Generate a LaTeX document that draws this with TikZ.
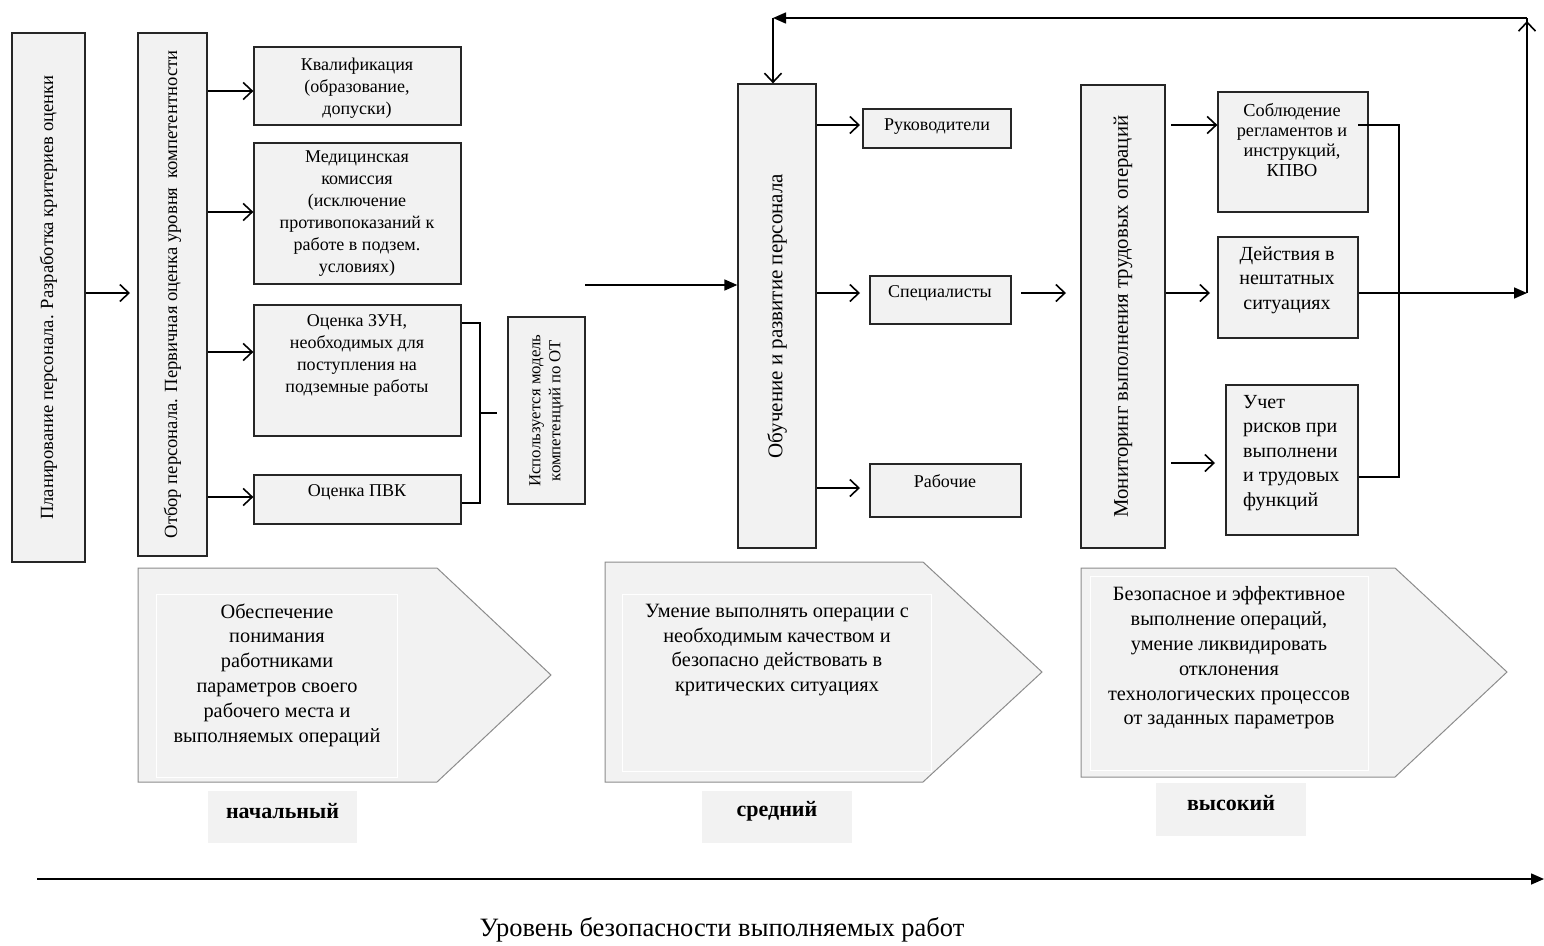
\documentclass[tikz,border=0pt]{standalone}
\usepackage{fontspec}
\setmainfont{Liberation Serif}
\usetikzlibrary{arrows.meta,fit}
\definecolor{boxgray}{HTML}{F2F2F2}
\definecolor{pentline}{HTML}{8C8C8C}
\begin{document}
\begin{tikzpicture}[x=1pt,y=-1pt,
  box/.style={draw=black!85, fill=boxgray, line width=1.3pt, inner sep=0pt},
  txt/.style={align=center, font=\fontsize{18}{22}\selectfont, inner sep=0pt},
  rtxt/.style={rotate=90, align=center, font=\fontsize{18.6}{22}\selectfont, inner sep=0pt},
  ptxt/.style={align=center, font=\fontsize{20.3}{24.8}\selectfont, inner sep=0pt},
  lvl/.style={fill=boxgray, inner sep=0pt},
  lvltxt/.style={font=\bfseries\fontsize{22}{26}\selectfont, inner sep=0pt},
  pent/.style={draw=pentline, fill=boxgray, line width=1pt},
  inner/.style={draw=white, line width=0.8pt},
  oa/.style={-{Straight Barb[length=9pt,width=17pt,line width=1.6pt]}, line width=1.6pt},
  fa/.style={-{Triangle[length=13pt,width=11pt]}, line width=1.6pt},
  thin/.style={line width=1.2pt}
]
\useasboundingbox (0,0) rectangle (1544,945);

% ---------- left column ----------
\node[box, fit={(12,33) (85,562)}] (A) {};
\node[rtxt] (At) at (A.center) {Планирование персонала. Разработка критериев оценки};
\node[box, fit={(138,33) (207,556)}] (B) {};
\node[rtxt] (Bt) at (B.center) {Отбор персонала. Первичная оценка уровня\ \ компетентности};
\draw[oa] (A.east |- 0,293) -- (130,293) coordinate (Bin);

\node[box, fit={(254,47) (461,125)}] (K) {};
\node[txt] (Kt) at (357,88) {Квалификация\\(образование,\\допуски)};
\node[box, fit={(254,143) (461,284)}] (M) {};
\node[txt] (Mt) at (357,214) {Медицинская\\комиссия\\(исключение\\противопоказаний к\\работе в подзем.\\условиях)};
\node[box, fit={(254,305) (461,436)}] (Z) {};
\node[txt] (Zt) at (357,355) {Оценка ЗУН,\\необходимых для\\поступления на\\подземные работы};
\node[box, fit={(254,475) (461,524)}] (P) {};
\node[txt] (Pt) at (357,492) {Оценка ПВК};

\draw[oa] (B.east |- 0,91) -- (K.west |- 0,91);
\draw[oa] (B.east |- 0,212) -- (M.west |- 0,212);
\draw[oa] (B.east |- 0,352) -- (Z.west |- 0,352);
\draw[oa] (B.east |- 0,497) -- (P.west |- 0,497);

\node[box, fit={(508,317) (585,504)}] (U) {};
\node[rtxt, font=\fontsize{16.8}{20}\selectfont] (Ut) at (U.center) {Используется модель\\компетенций по ОТ};
\draw[thin] (Z.east |- 0,323) -- (480,323) coordinate (br1) -- (480,503) coordinate (br2) -- (P.east |- 0,503);
\draw[thin] (480,413) coordinate (brm) -- (497,413);

% ---------- middle column ----------
\node[box, fit={(738,84) (816,548)}] (O) {};
\node[rtxt, font=\fontsize{21}{25}\selectfont] (Ot) at (O.center) {Обучение и развитие персонала};
\coordinate (Ostart) at (585,285);
\draw[fa] (Ostart) -- (O.west |- Ostart);

\node[box, fit={(863,109) (1011,148)}] (R1) {};
\node[txt] (R1t) at (937,127) {Руководители};
\node[box, fit={(870,276) (1011,324)}] (R2) {};
\node[txt] (R2t) at (940,293) {Специалисты};
\node[box, fit={(870,464) (1021,517)}] (R3) {};
\node[txt] (R3t) at (945,481) {Рабочие};

\draw[oa] (O.east |- 0,125) -- (860,125);
\draw[oa] (O.east |- 0,293) -- (860,293);
\draw[oa] (O.east |- 0,488) -- (860,488);
\draw[oa] (1021,293) -- (1066,293);

% ---------- right column ----------
\node[box, fit={(1081,85) (1165,548)}] (Mo) {};
\node[rtxt, font=\fontsize{20.8}{25}\selectfont] (Mot) at (Mo.center) {Мониторинг выполнения трудовых операций};

\node[box, fit={(1218,92) (1368,212)}] (S1) {};
\node[txt, font=\fontsize{18.3}{20}\selectfont] (S1t) at (1292,140) {Соблюдение\\регламентов и\\инструкций,\\КПВО};
\node[box, fit={(1218,237) (1358,338)}] (S2) {};
\node[txt, font=\fontsize{20}{24.5}\selectfont] (S2t) at (1287,280) {Действия в\\нештатных\\ситуациях};
\node[box, fit={(1226,385) (1358,535)}] (S3) {};
\node[txt, align=left, font=\fontsize{20}{24.5}\selectfont, anchor=west] (S3t) at (1243,453) {Учет\\рисков при\\выполнени\\и трудовых\\функций};

\draw[oa] (1171,125) -- (S1.west |- 0,125);
\draw[oa] (Mo.east |- 0,293) -- (1210,293);
\draw[oa] (1171,463) -- (1215,463);

\draw[thin] (1358,125) -- (1399,125) -- (1399,477) -- (S3.east |- 0,477);

\coordinate (Rc) at (1527,293);
\coordinate (TR) at (1527,18);
\coordinate (TL) at (773,18);
\draw[fa] (S2.east |- Rc) -- (Rc);
\draw[oa] (Rc) -- (1527,21);
\draw[line width=1.6pt] (1527,18) -- (1527,22);
\draw[fa] (TR) -- (TL);
\draw[oa] (TL) -- (O.north -| TL);

% ---------- pentagons ----------
\draw[pent] (138,568) -- (437,568) -- (551,675) -- (437,782) -- (138,782) -- cycle;
\draw[inner] (156,594) rectangle (397,777);
\node[ptxt] (P1t) at (277,675) {Обеспечение\\понимания\\работниками\\параметров своего\\рабочего места и\\выполняемых операций};

\draw[pent] (605,562) -- (923,562) -- (1042,672) -- (923,782) -- (605,782) -- cycle;
\draw[inner] (622,594) rectangle (931,771);
\node[ptxt] (P2t) at (777,650) {Умение выполнять операции с\\необходимым качеством и\\безопасно действовать в\\критических ситуациях};

\draw[pent] (1081,568) -- (1395,568) -- (1507,672) -- (1395,777) -- (1081,777) -- cycle;
\draw[inner] (1090,576) rectangle (1368,770);
\node[ptxt] (P3t) at (1229,658) {Безопасное и эффективное\\выполнение операций,\\умение ликвидировать\\отклонения\\технологических процессов\\от заданных параметров};

% ---------- level labels ----------
\node[lvl, minimum width=149pt, minimum height=52pt] (L1) at (282.5,817) {};
\node[lvltxt] (L1t) at (282.5,811) {начальный};
\node[lvl, minimum width=150pt, minimum height=52pt] (L2) at (777,817) {};
\node[lvltxt] (L2t) at (777,811) {средний};
\node[lvl, minimum width=150pt, minimum height=53pt] (L3) at (1231,809.5) {};
\node[lvltxt] (L3t) at (1231,803) {высокий};

% ---------- axis ----------
\coordinate (X0) at (37,879);
\coordinate (X1) at (1544,879);
\draw[fa] (X0) -- (X1);
\node[font=\fontsize{26.5}{30}\selectfont, inner sep=0pt] (Xl) at (722,930) {Уровень безопасности выполняемых работ};
\end{tikzpicture}
\end{document}
